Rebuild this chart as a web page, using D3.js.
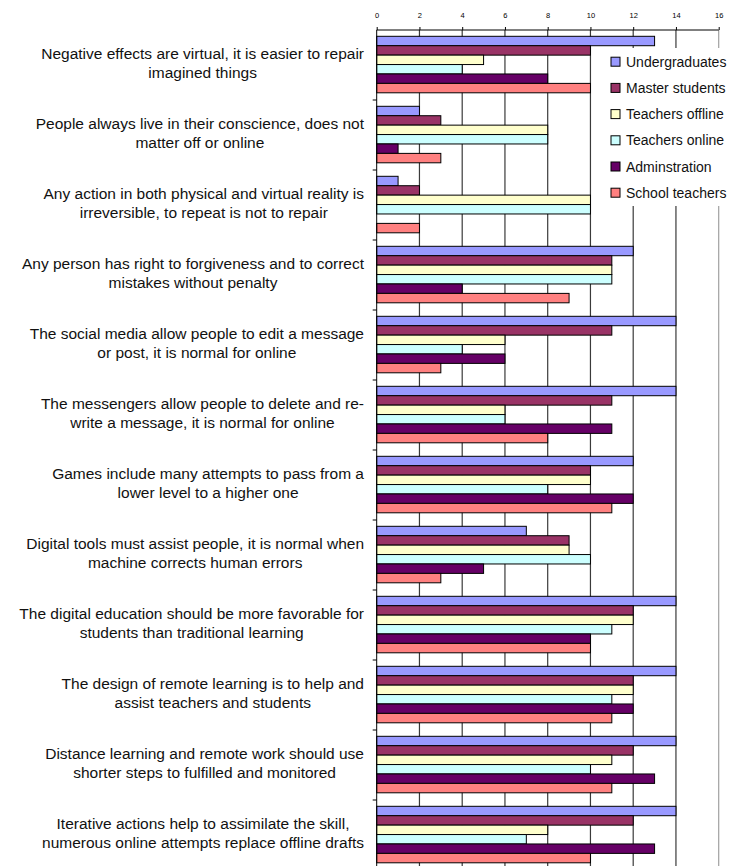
<!DOCTYPE html>
<html>
<head>
<meta charset="utf-8">
<script src="https://cdn.jsdelivr.net/npm/d3@7"></script>
<style>
  html, body { margin: 0; padding: 0; background: #fff; }
  svg { display: block; font-family: "Liberation Sans", Arial, sans-serif; }
</style>
</head>
<body>
<svg id="chart" width="740" height="866"></svg>
<script>
// category labels, two lines each as in the original
var categories = [
  ["Negative effects are virtual, it is easier to repair", "imagined things"],
  ["People always live in their conscience, does not", "matter off or online"],
  ["Any action in both physical and virtual reality is", "irreversible, to repeat is not to repair"],
  ["Any person has right to forgiveness and to correct", "mistakes without penalty"],
  ["The social media allow people to edit a message", "or post, it is normal for online"],
  ["The messengers allow people to delete and re-", "write a message, it is normal for online"],
  ["Games include many attempts to pass from a", "lower level to a higher one"],
  ["Digital tools must assist people, it is normal when", "machine corrects human errors"],
  ["The digital education should be more favorable for", "students than traditional learning"],
  ["The design of remote learning is to help and", "assist teachers and students"],
  ["Distance learning and remote work should use", "shorter steps to fulfilled and monitored"],
  ["Iterative actions help to assimilate the skill,", "numerous online attempts replace offline drafts"]
];

var seriesNames = ["Undergraduates", "Master students", "Teachers offline", "Teachers online", "Adminstration", "School teachers"];
var seriesColors = ["#9999FF", "#993366", "#FFFFCC", "#CCFFFF", "#660066", "#FF8080"];

var undergraduates  = [13, 2, 1, 12, 14, 14, 12, 7, 14, 14, 14, 14];
var masterStudents  = [10, 3, 2, 11, 11, 11, 10, 9, 12, 12, 12, 12];
var teachersOffline = [5, 8, 10, 11, 6, 6, 10, 9, 12, 12, 11, 8];
var teachersOnline  = [4, 8, 10, 11, 4, 6, 8, 10, 11, 11, 10, 7];
var adminstration   = [8, 1, 0, 4, 6, 11, 12, 5, 10, 12, 13, 13];
var schoolTeachers  = [10, 3, 2, 9, 3, 8, 11, 3, 10, 11, 11, 10];

var xTicks = [0, 2, 4, 6, 8, 10, 12, 14, 16];

var seriesValues = [undergraduates, masterStudents, teachersOffline, teachersOnline, adminstration, schoolTeachers];

var svg = d3.select("#chart");

var x = d3.scaleLinear().domain([0, 16]).range([376.7, 718.7]);
var bandH = 70;
var y = d3.scaleBand()
  .domain(d3.range(categories.length))
  .range([30, 30 + bandH * categories.length])
  .padding(0);
var ySub = d3.scaleBand()
  .domain(d3.range(seriesNames.length))
  .range([6.3, 62.8]);

// gridlines
svg.append("g").selectAll("line")
  .data(xTicks.filter(function(d) { return d > 0; }))
  .enter().append("line")
    .attr("x1", function(d) { return x(d); })
    .attr("x2", function(d) { return x(d); })
    .attr("y1", 30)
    .attr("y2", 866)
    .attr("stroke", function(d) { return d == 16 ? "#a0a0a0" : "#3a3a3a"; })
    .attr("stroke-width", 1.2);

// top axis
var xAxis = d3.axisTop(x).tickValues(xTicks).tickSize(3).tickPadding(9);
var ax = svg.append("g").attr("transform", "translate(0,30)").call(xAxis);
ax.select(".domain").attr("stroke", "#000").attr("d", "M" + x(0) + ",0H" + x(16));
ax.selectAll(".tick line").attr("stroke", "#000");
ax.selectAll(".tick text")
  .attr("font-size", "7.5px")
  .attr("font-family", "Liberation Sans, Arial, sans-serif")
  .attr("fill", "#000");

// bars
var groups = svg.append("g").selectAll("g")
  .data(categories)
  .enter().append("g")
    .attr("transform", function(d, i) { return "translate(0," + y(i) + ")"; });

groups.selectAll("rect")
  .data(function(d, i) {
    return seriesValues.map(function(vals, s) { return {s: s, v: vals[i]}; });
  })
  .enter().filter(function(d) { return d.v > 0; }).append("rect")
    .attr("x", x(0))
    .attr("y", function(d) { return ySub(d.s); })
    .attr("width", function(d) { return x(d.v) - x(0); })
    .attr("height", ySub.bandwidth())
    .attr("fill", function(d) { return seriesColors[d.s]; })
    .attr("stroke", "#000")
    .attr("stroke-width", 1);

// left axis line + category ticks
svg.append("line")
  .attr("x1", x(0)).attr("x2", x(0))
  .attr("y1", 30).attr("y2", 866)
  .attr("stroke", "#000");
svg.append("g").selectAll("line")
  .data(d3.range(1, categories.length + 1))
  .enter().append("line")
    .attr("x1", x(0) - 4).attr("x2", x(0))
    .attr("y1", function(i) { return 30 + i * bandH; })
    .attr("y2", function(i) { return 30 + i * bandH; })
    .attr("stroke", "#000");

// category labels: block right-aligned to axis, lines centred inside it
var labelRight = 364;
groups.each(function(lines) {
  var g = d3.select(this);
  var txt = g.selectAll("text.cat")
    .data(lines)
    .enter().append("text")
      .attr("class", "cat")
      .attr("y", function(d, k) { return 28.5 + k * 19.5; })
      .attr("font-size", "15.5px")
      .attr("fill", "#111")
      .attr("text-anchor", "middle")
      .text(function(d) { return d; });
  var maxW = 0;
  txt.each(function() { maxW = Math.max(maxW, this.getComputedTextLength()); });
  txt.attr("x", labelRight - maxW / 2);
});

// legend
var legend = svg.append("g");
legend.append("rect")
  .attr("x", 602).attr("y", 48)
  .attr("width", 138).attr("height", 158)
  .attr("fill", "#fff");
var li = legend.selectAll("g.item")
  .data(seriesNames)
  .enter().append("g")
    .attr("class", "item")
    .attr("transform", function(d, i) { return "translate(611," + (61.7 + i * 26.2) + ")"; });
li.append("rect")
  .attr("x", 0).attr("y", -4.5)
  .attr("width", 9).attr("height", 9)
  .attr("fill", function(d, i) { return seriesColors[i]; })
  .attr("stroke", "#000");
li.append("text")
  .attr("x", 15).attr("y", 5)
  .attr("font-size", "14px")
  .attr("fill", "#111")
  .text(function(d) { return d; });
</script>
</body>
</html>
